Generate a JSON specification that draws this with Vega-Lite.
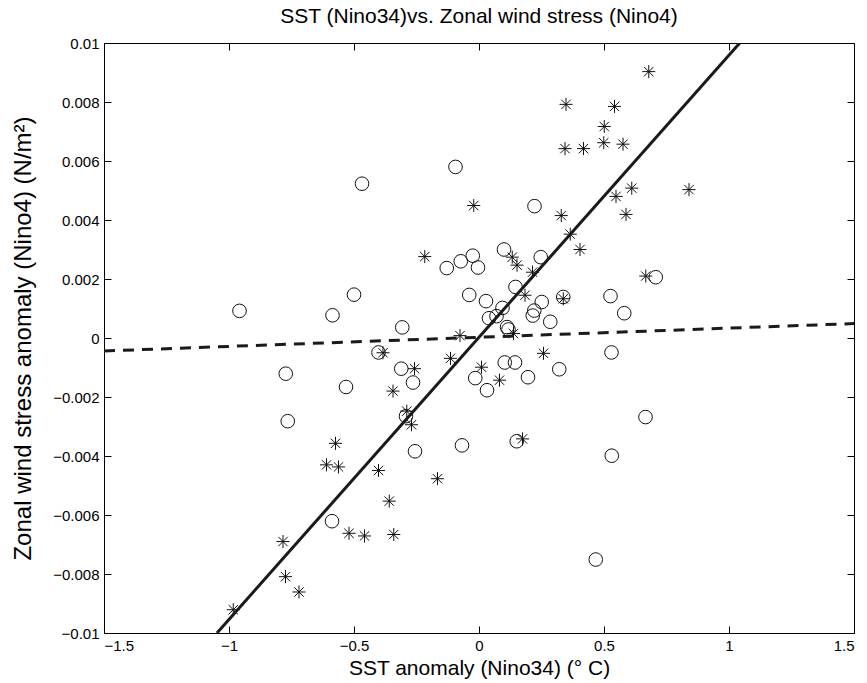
{
  "$schema": "https://vega.github.io/schema/vega-lite/v6.json",
  "width": 750,
  "height": 590,
  "autosize": "none",
  "padding": {"left": 104, "top": 43, "right": 13, "bottom": 50},
  "background": "white",
  "title": {"text": "SST (Nino34)vs. Zonal wind stress (Nino4)", "font": "Liberation Sans", "fontSize": 21, "fontWeight": "normal", "color": "#000", "anchor": "middle", "offset": 9},
  "config": {
    "view": {"stroke": "#000", "strokeWidth": 1},
    "axis": {"domain": false, "grid": false, "tickColor": "#000", "tickSize": -7, "tickWidth": 1, "labelFont": "Liberation Sans", "labelFontSize": 15, "labelColor": "#000", "titleFont": "Liberation Sans", "titleFontSize": 21, "titleFontWeight": "normal", "titleColor": "#000", "labelPadding": 12}
  },
  "datasets": {
    "circles": [
      {"sst": -0.094, "tau": 0.0058}, {"sst": -0.468, "tau": 0.00523}, {"sst": 0.222, "tau": 0.00447},
      {"sst": -0.129, "tau": 0.00237}, {"sst": -0.073, "tau": 0.0026}, {"sst": -0.025, "tau": 0.00279},
      {"sst": -0.004, "tau": 0.00239}, {"sst": -0.039, "tau": 0.00146}, {"sst": -0.5, "tau": 0.00147},
      {"sst": -0.586, "tau": 0.00077}, {"sst": -0.958, "tau": 0.00092}, {"sst": -0.307, "tau": 0.00036},
      {"sst": 0.1, "tau": 0.003}, {"sst": 0.247, "tau": 0.00274}, {"sst": 0.146, "tau": 0.00173},
      {"sst": 0.028, "tau": 0.00125}, {"sst": 0.094, "tau": 0.00102}, {"sst": 0.251, "tau": 0.00122},
      {"sst": 0.221, "tau": 0.00093}, {"sst": 0.215, "tau": 0.00076}, {"sst": 0.285, "tau": 0.00055},
      {"sst": 0.04, "tau": 0.00067}, {"sst": 0.07, "tau": 0.00074}, {"sst": 0.337, "tau": 0.00139},
      {"sst": 0.112, "tau": 0.00037}, {"sst": 0.118, "tau": 0.00029}, {"sst": 0.707, "tau": 0.00206},
      {"sst": 0.526, "tau": 0.00142}, {"sst": 0.581, "tau": 0.00084}, {"sst": 0.53, "tau": -0.00049},
      {"sst": -0.402, "tau": -0.00049}, {"sst": -0.773, "tau": -0.00121}, {"sst": -0.532, "tau": -0.00166},
      {"sst": -0.311, "tau": -0.00104}, {"sst": -0.264, "tau": -0.00151}, {"sst": -0.015, "tau": -0.00136},
      {"sst": 0.103, "tau": -0.00083}, {"sst": 0.144, "tau": -0.00083}, {"sst": 0.032, "tau": -0.00177},
      {"sst": 0.196, "tau": -0.00133}, {"sst": 0.321, "tau": -0.00106}, {"sst": -0.765, "tau": -0.00282},
      {"sst": -0.292, "tau": -0.00265}, {"sst": -0.068, "tau": -0.00364}, {"sst": 0.151, "tau": -0.0035},
      {"sst": -0.256, "tau": -0.00384}, {"sst": 0.666, "tau": -0.00268}, {"sst": 0.531, "tau": -0.00399},
      {"sst": 0.467, "tau": -0.00751}, {"sst": -0.588, "tau": -0.00621}
    ],
    "stars": [
      {"sst": 0.679, "tau": 0.00903}, {"sst": 0.348, "tau": 0.00792}, {"sst": 0.542, "tau": 0.00785},
      {"sst": 0.501, "tau": 0.00717}, {"sst": 0.344, "tau": 0.00642}, {"sst": 0.418, "tau": 0.00642},
      {"sst": 0.499, "tau": 0.00662}, {"sst": 0.576, "tau": 0.00657}, {"sst": 0.611, "tau": 0.00508},
      {"sst": 0.548, "tau": 0.0048}, {"sst": 0.84, "tau": 0.00503}, {"sst": 0.588, "tau": 0.00419},
      {"sst": 0.329, "tau": 0.00415}, {"sst": 0.365, "tau": 0.00352}, {"sst": 0.404, "tau": 0.003},
      {"sst": -0.021, "tau": 0.00449}, {"sst": -0.217, "tau": 0.00276}, {"sst": 0.133, "tau": 0.00274},
      {"sst": 0.152, "tau": 0.00247}, {"sst": 0.214, "tau": 0.00223}, {"sst": 0.184, "tau": 0.00145},
      {"sst": 0.337, "tau": 0.00133}, {"sst": 0.667, "tau": 0.0021}, {"sst": -0.076, "tau": 0.00008},
      {"sst": 0.138, "tau": 0.00015}, {"sst": 0.258, "tau": -0.00052}, {"sst": -0.114, "tau": -0.00069},
      {"sst": 0.01, "tau": -0.00099}, {"sst": 0.082, "tau": -0.00143}, {"sst": -0.258, "tau": -0.00104},
      {"sst": -0.384, "tau": -0.0005}, {"sst": -0.344, "tau": -0.0018}, {"sst": -0.289, "tau": -0.00248},
      {"sst": -0.27, "tau": -0.00294}, {"sst": 0.174, "tau": -0.00342}, {"sst": -0.166, "tau": -0.00477},
      {"sst": -0.574, "tau": -0.00357}, {"sst": -0.61, "tau": -0.0043}, {"sst": -0.562, "tau": -0.00437},
      {"sst": -0.402, "tau": -0.00449}, {"sst": -0.359, "tau": -0.00553}, {"sst": -0.52, "tau": -0.00662},
      {"sst": -0.458, "tau": -0.00671}, {"sst": -0.341, "tau": -0.00666}, {"sst": -0.784, "tau": -0.0069},
      {"sst": -0.774, "tau": -0.00809}, {"sst": -0.72, "tau": -0.00861}, {"sst": -0.983, "tau": -0.00921}
    ],
    "fit": [{"sst": -1.048, "tau": -0.01}, {"sst": 1.043, "tau": 0.01}],
    "flat": [{"sst": -1.5, "tau": -0.00044}, {"sst": 1.5, "tau": 0.00049}]
  },
  "layer": [
    {
      "data": {"name": "circles"},
      "mark": {"type": "point", "shape": "circle", "filled": false, "stroke": "#111", "strokeWidth": 1, "size": 185, "opacity": 1},
      "encoding": {
        "x": {"field": "sst", "type": "quantitative", "scale": {"domain": [-1.5, 1.5], "nice": false, "zero": false},
              "axis": {"orient": "bottom", "values": [-1.5, -1, -0.5, 0, 0.5, 1, 1.5], "format": "~g", "title": "SST anomaly (Nino34) (° C)", "titlePadding": 4}},
        "y": {"field": "tau", "type": "quantitative", "scale": {"domain": [-0.01, 0.01], "nice": false, "zero": false},
              "axis": {"orient": "left", "values": [-0.01, -0.008, -0.006, -0.004, -0.002, 0, 0.002, 0.004, 0.006, 0.008, 0.01], "format": "~g", "title": "Zonal wind stress anomaly (Nino4) (N/m²)", "titleFontSize": 24, "titlePadding": 17}}
      }
    },
    {
      "data": {"name": "stars"},
      "mark": {"type": "point", "shape": "M-1,0H1M0,-1V1M-0.72,-0.72L0.72,0.72M-0.72,0.72L0.72,-0.72", "filled": false, "stroke": "#111", "strokeWidth": 1, "size": 170, "opacity": 1},
      "encoding": {
        "x": {"field": "sst", "type": "quantitative", "scale": {"domain": [-1.5, 1.5], "nice": false, "zero": false},
              "axis": {"orient": "top", "values": [-1.5, -1, -0.5, 0, 0.5, 1, 1.5], "labels": false, "title": null}},
        "y": {"field": "tau", "type": "quantitative", "scale": {"domain": [-0.01, 0.01], "nice": false, "zero": false},
              "axis": {"orient": "right", "values": [-0.01, -0.008, -0.006, -0.004, -0.002, 0, 0.002, 0.004, 0.006, 0.008, 0.01], "labels": false, "title": null}}
      }
    },
    {
      "data": {"name": "fit"},
      "mark": {"type": "line", "color": "#1a1a1a", "strokeWidth": 3, "clip": true},
      "encoding": {
        "x": {"field": "sst", "type": "quantitative", "axis": null},
        "y": {"field": "tau", "type": "quantitative", "axis": null}
      }
    },
    {
      "data": {"name": "flat"},
      "mark": {"type": "line", "color": "#1a1a1a", "strokeWidth": 3, "strokeDash": [11, 8], "clip": true},
      "encoding": {
        "x": {"field": "sst", "type": "quantitative", "axis": null},
        "y": {"field": "tau", "type": "quantitative", "axis": null}
      }
    }
  ],
  "resolve": {"axis": {"x": "independent", "y": "independent"}}
}
